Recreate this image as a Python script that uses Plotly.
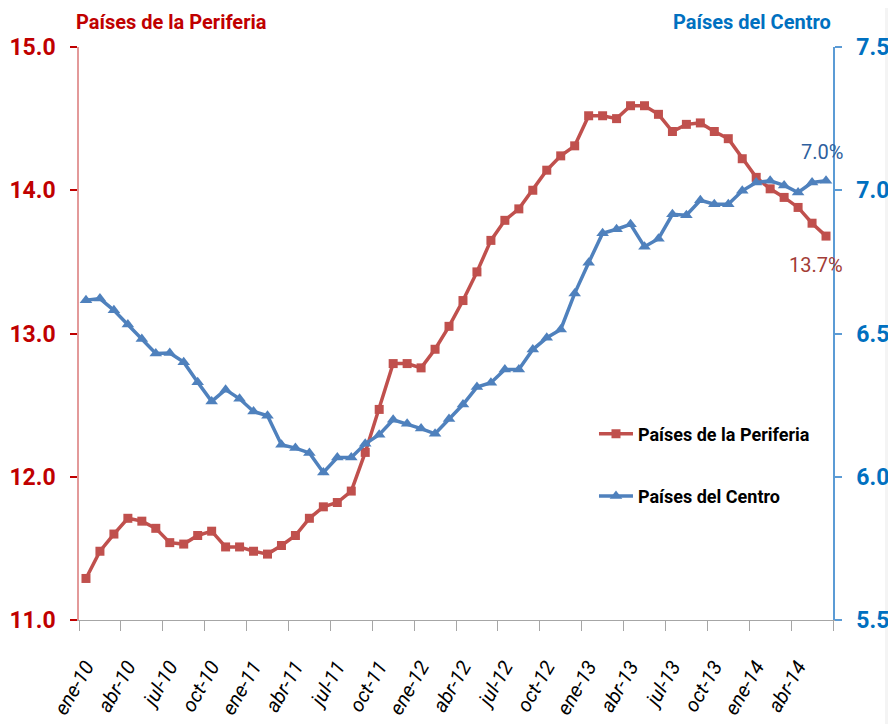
import plotly.graph_objects as go

months = ["ene", "feb", "mar", "abr", "may", "jun", "jul", "ago", "sep", "oct", "nov", "dic"]
categories = [f"{m}-{y}" for y in ["10", "11", "12", "13", "14"] for m in months][:54]

periferia = [11.29, 11.48, 11.60, 11.71, 11.69, 11.64, 11.54, 11.53, 11.59, 11.62,
             11.51, 11.51, 11.48, 11.46, 11.52, 11.59, 11.71, 11.79, 11.82, 11.90,
             12.17, 12.47, 12.79, 12.79, 12.76, 12.89, 13.05, 13.23, 13.43, 13.65,
             13.79, 13.87, 14.00, 14.14, 14.24, 14.31, 14.52, 14.52, 14.50, 14.59,
             14.59, 14.53, 14.41, 14.46, 14.47, 14.41, 14.36, 14.22, 14.09, 14.01,
             13.95, 13.88, 13.77, 13.68]

centro = [6.616, 6.622, 6.581, 6.531, 6.481, 6.430, 6.432, 6.400, 6.330, 6.263,
          6.304, 6.272, 6.228, 6.213, 6.112, 6.100, 6.083, 6.015, 6.067, 6.067,
          6.115, 6.147, 6.199, 6.185, 6.168, 6.150, 6.202, 6.252, 6.313, 6.328,
          6.374, 6.374, 6.444, 6.485, 6.514, 6.640, 6.747, 6.850, 6.864, 6.881,
          6.803, 6.831, 6.916, 6.913, 6.965, 6.951, 6.951, 6.998, 7.027, 7.033,
          7.017, 6.992, 7.027, 7.033]

label_idx = list(range(0, 54, 3))
tick_labels = [categories[i] for i in label_idx]

FONT = "Roboto, Liberation Sans, sans-serif"
RED_LINE = "#C0504D"
BLUE_LINE = "#4F81BD"
RED_TXT = "#C00000"
BLUE_TXT = "#0070C0"

x = list(range(len(categories)))

fig = go.Figure()
fig.add_trace(go.Scatter(
    x=x, y=periferia, name="Países de la Periferia", mode="lines+markers",
    line=dict(color=RED_LINE, width=3.5),
    marker=dict(symbol="square", size=9, color=RED_LINE),
    legendgroup="a", yaxis="y"))
fig.add_trace(go.Scatter(
    x=x, y=centro, name="Países del Centro", mode="lines+markers",
    line=dict(color=BLUE_LINE, width=3.5),
    marker=dict(symbol="triangle-up", size=11, color=BLUE_LINE),
    legendgroup="b", yaxis="y2"))

fig.update_layout(
    width=888, height=716,
    margin=dict(l=71, r=63, t=39, b=104),
    paper_bgcolor="white", plot_bgcolor="white",
    font=dict(family=FONT, color="black"),
    showlegend=True,
    legend=dict(x=0.683, y=0.357, xanchor="left", yanchor="top",
                font=dict(family=FONT, size=18, color="black", weight="bold"),
                tracegroupgap=36, bgcolor="rgba(0,0,0,0)", itemwidth=34),
    xaxis=dict(
        range=[-0.5, 53.5], tickmode="array", tickvals=label_idx, ticktext=tick_labels,
        tickangle=-60, ticks="outside", ticklen=26, tickcolor="rgba(0,0,0,0)",
        tickfont=dict(family=FONT, size=20, color="black", style="italic"),
        showline=True, linecolor="#A6A6A6", linewidth=1, showgrid=False, zeroline=False,
        automargin=False,
        minor=dict(tickmode="array", tickvals=[i - 0.5 for i in range(0, 55, 3)],
                   ticks="outside", ticklen=10, tickcolor="#A6A6A6", tickwidth=1, showgrid=False),
    ),
    yaxis=dict(
        range=[11, 15], dtick=1, tick0=11, tickformat=".1f",
        ticks="outside", ticklen=7, tickcolor=RED_TXT, tickwidth=1.5, ticklabelstandoff=10,
        tickfont=dict(family=FONT, size=23, color=RED_TXT, weight="bold"),
        showline=True, linecolor="#E39A9A", linewidth=1.5, showgrid=False, zeroline=False,
        automargin=False,
    ),
    yaxis2=dict(
        range=[5.5, 7.5], dtick=0.5, tick0=5.5, tickformat=".1f",
        overlaying="y", side="right",
        ticks="outside", ticklen=7, tickcolor="#5B9BD5", tickwidth=1.5, ticklabelstandoff=10,
        tickfont=dict(family=FONT, size=23, color=BLUE_TXT, weight="bold"),
        showline=True, linecolor="#5B9BD5", linewidth=1.5, showgrid=False, zeroline=False,
        automargin=False,
    ),
)

fig.add_annotation(text="Países de la Periferia", xref="paper", yref="paper",
                   x=-0.007, y=1.0436, xanchor="left", yanchor="middle", showarrow=False,
                   font=dict(family=FONT, size=20, color=RED_TXT, weight="bold"))
fig.add_annotation(text="Países del Centro", xref="paper", yref="paper",
                   x=1.0, y=1.0436, xanchor="right", yanchor="middle", showarrow=False,
                   font=dict(family=FONT, size=20, color=BLUE_TXT, weight="bold"))
fig.add_annotation(text=f"{centro[-1]:.1f}%", x=x[-1], y=centro[-1], xref="x", yref="y2",
                   showarrow=False, xshift=-4, yshift=29,
                   font=dict(family=FONT, size=20, color="#2E5F9E"))
fig.add_annotation(text=f"{periferia[-1]:.1f}%", x=x[-1], y=periferia[-1], xref="x", yref="y",
                   showarrow=False, xshift=-10, yshift=-29,
                   font=dict(family=FONT, size=20, color="#A33C36"))

# right-edge screenshot artefacts
fig.add_shape(type="rect", xref="paper", yref="paper", x0=1.069, x1=1.1, y0=-0.2, y1=1.1,
              fillcolor="#F4F4F4", line=dict(width=0), layer="below")
fig.add_shape(type="rect", xref="paper", yref="paper", x0=1.0795, x1=1.1, y0=-0.1815, y1=-0.12,
              fillcolor="#222222", line=dict(width=0))

fig.write_html("out.html")
